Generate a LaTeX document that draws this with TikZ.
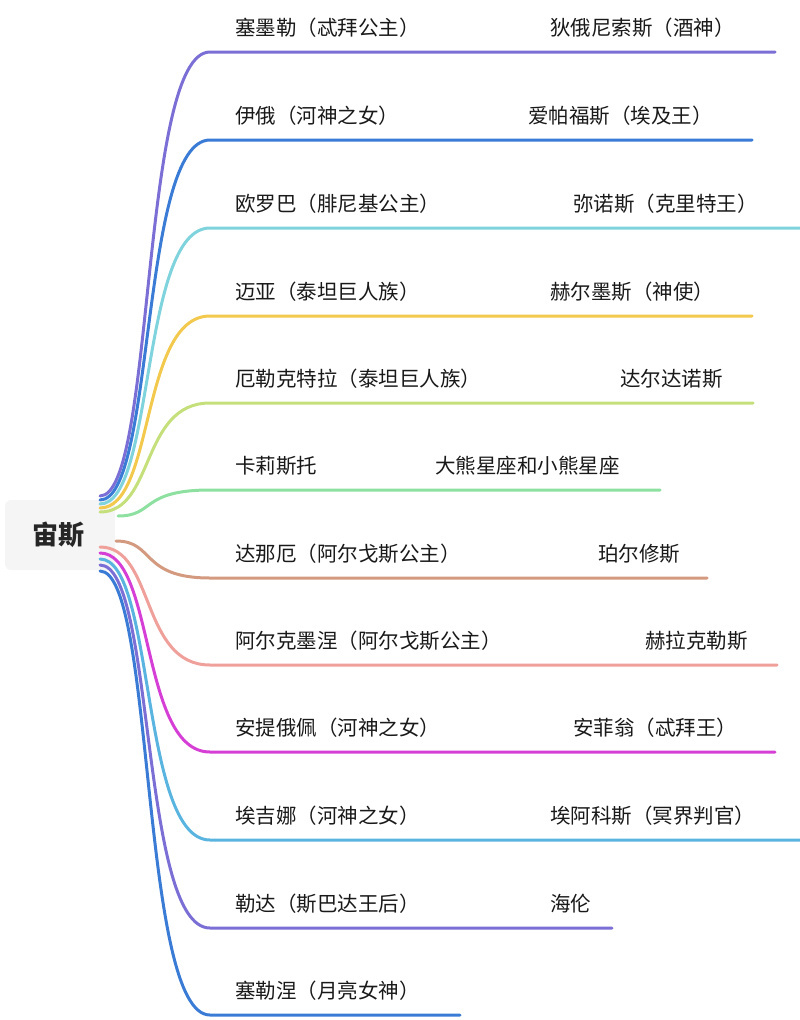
\documentclass[tikz,border=0pt]{standalone}
\usepackage{fontspec}
\newfontfamily\cjk{Noto Sans CJK SC}
\definecolor{c1}{HTML}{7B6FD6}\definecolor{c2}{HTML}{3A7BD5}\definecolor{c3}{HTML}{7FD3DC}
\definecolor{c4}{HTML}{F2C94C}\definecolor{c5}{HTML}{C5E07A}\definecolor{c6}{HTML}{8EE0A0}
\definecolor{c7}{HTML}{D49A80}\definecolor{c8}{HTML}{F0A09A}\definecolor{c9}{HTML}{D63FD6}
\definecolor{c10}{HTML}{5AB4E0}\definecolor{c11}{HTML}{7B6FD6}\definecolor{c12}{HTML}{3A7BD5}
\begin{document}
\begin{tikzpicture}[x=1pt,y=-1pt,
  lbl/.style={font=\cjk\fontsize{20.5}{24}\selectfont, anchor=west, text=black!90, inner sep=0},
  br/.style={line width=3pt, line cap=round}]
\useasboundingbox (0,0) rectangle (800,1020);
\fill[gray!8, rounded corners=6] (5,500) rectangle (115,570);
\node[font=\cjk\bfseries\fontsize{26}{30}\selectfont, text=black!85] (root) at (58,535) {宙斯};
\foreach \i/\ry/\ex/\rx/\L/\R in {
 1/52/775/550/塞墨勒（忒拜公主）/狄俄尼索斯（酒神）,
 2/140/752/528/伊俄（河神之女）/爱帕福斯（埃及王）,
 3/228/800/573/欧罗巴（腓尼基公主）/弥诺斯（克里特王）,
 4/316/752/550/迈亚（泰坦巨人族）/赫尔墨斯（神使）,
 5/403/753/620/厄勒克特拉（泰坦巨人族）/达尔达诺斯,
 6/490/660/435/卡莉斯托/大熊星座和小熊星座,
 7/578/707/598/达那厄（阿尔戈斯公主）/珀尔修斯,
 8/665/777/645/阿尔克墨涅（阿尔戈斯公主）/赫拉克勒斯,
 9/752/775/573/安提俄佩（河神之女）/安菲翁（忒拜王）,
 10/840/800/550/埃吉娜（河神之女）/埃阿科斯（冥界判官）,
 11/928/612/550/勒达（斯巴达王后）/海伦,
 12/1015/460/0/塞勒涅（月亮女神）/{}}{
  \pgfmathsetmacro\sy{\i<7 ? 492+\i*4 : 535+(\i-6)*6}
  \pgfmathsetmacro\sx{\i==6 ? 118 : (\i==7 ? 116 : 100)}
  \coordinate (s\i) at (\sx,\sy);
  \coordinate (m\i) at (210,\ry);
  \coordinate (e\i) at (\ex,\ry);
  \draw[br, c\i] (s\i) .. controls (155,\sy) and (140,\ry) .. (m\i) -- (e\i);
  \node[lbl] (l\i) at (235,\ry-24) {\L};
  \ifnum\rx>0 \node[lbl] (r\i) at (\rx,\ry-24) {\R};\fi
}
\end{tikzpicture}
\end{document}
